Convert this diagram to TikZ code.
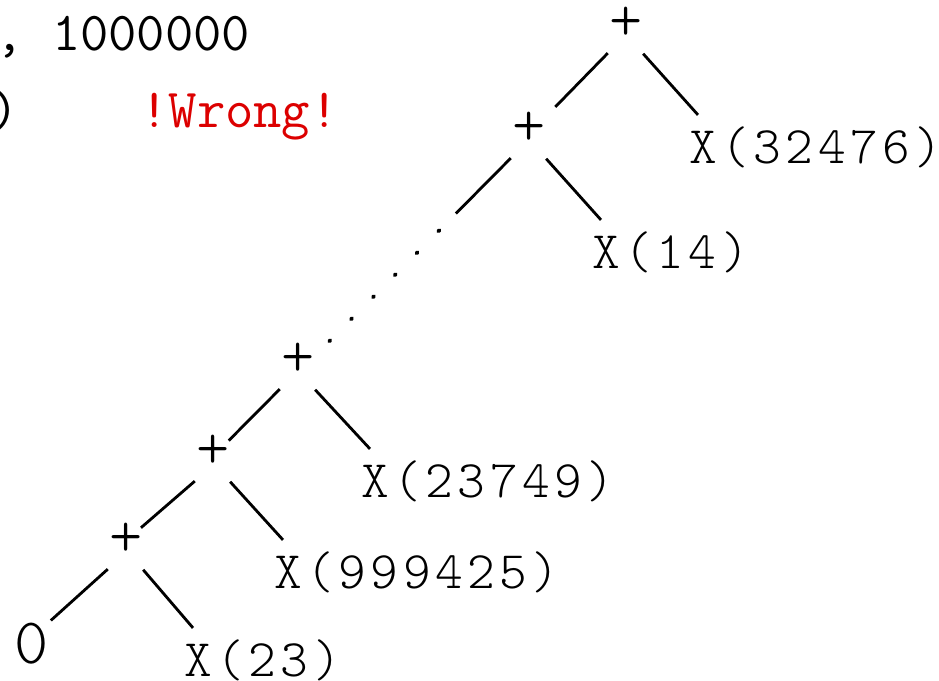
\documentclass[tikz,border=0pt]{standalone}
\usepackage{fontspec}
\newfontfamily\treefont{lmmonolt10-regular.otf}[LetterSpace=8.6]
\usepackage{tikz}
\usetikzlibrary{positioning}
\definecolor{wrongred}{RGB}{220,0,0}

\begin{document}
\begin{tikzpicture}[
        code/.style={font=\fontsize{31.3}{36}\selectfont\ttfamily, inner sep=0pt, anchor=base west},
        txt/.style={font=\fontsize{30}{36}\selectfont\treefont, inner sep=0pt},
        plus/.style={txt, font=\fontsize{36}{40}\selectfont\treefont, circle, minimum size=1.36cm},
        leaf/.style={txt, anchor=base west, inner ysep=0.22cm},
        branch/.style={line width=1.6pt},
        dotbranch/.style={line width=2.2pt, line cap=round, dash pattern=on 0.03cm off 0.59cm}
    ]
%
    \useasboundingbox (0,0) rectangle (18.78,-13.62);
    \clip (0,0) rectangle (18.78,-13.62);
%
    % Call line (cut at the left border)
    \node[code] (limit) at (-0.10,-1.00) {, 1000000};
    \node[code] (paren) at (-0.20,-2.54) {)};
    \node[code, text=wrongred] (wrong) at (2.80,-2.54) {!Wrong!};
%
    % Sum nodes
    \node[plus] (sum1) at (12.52,-0.48) {+};
    \node[plus] (sum2) at (10.58,-2.58) {+};
    \node[plus] (sum3) at (5.96,-7.20) {+};
    \node[plus] (sum4) at (4.26,-9.04) {+};
    \node[plus] (sum5) at (2.52,-10.80) {+};
%
    % Leaves
    \node[leaf] (x32476) at (13.78,-3.26) {X(32476)};
    \node[leaf] (x14) at (11.84,-5.36) {X(14)};
    \node[leaf] (x23749) at (7.22,-9.94) {X(23749)};
    \node[leaf] (x999425) at (5.48,-11.76) {X(999425)};
    \node[leaf] (x23) at (3.68,-13.52) {X(23)};
    \node[txt, font=\fontsize{37}{40}\selectfont\treefont, inner sep=1pt, anchor=base west] (zero) at (0.25,-13.26) {0};
%
    % Branches
    \draw[branch] (sum1.-122) -- (sum2.40);
    \draw[branch] (sum1.-60) -- ([xshift=0.18cm]x32476.north west);
    \draw[branch] (sum2.-60) -- ([xshift=0.18cm]x14.north west);
%
    % Long chain, partly dotted
    \path (sum2.-122) -- (sum3.30) coordinate[pos=0.3] (brk) coordinate[pos=0.39] (dotstart);
    \draw[branch] (sum2.-122) -- (brk);
    \draw[dotbranch] (dotstart) -- (sum3.30);
%
    \draw[branch, shorten >=-0.3cm] (sum3.-122) -- (sum4.40);
    \draw[branch] (sum3.-60) -- ([xshift=0.18cm]x23749.north west);
    \draw[branch, shorten >=-0.3cm] (sum4.-122) -- (sum5.40);
    \draw[branch] (sum4.-60) -- ([xshift=0.18cm]x999425.north west);
    \draw[branch] (sum5.-122) -- (zero.north east);
    \draw[branch] (sum5.-60) -- ([xshift=0.18cm]x23.north west);
%
\end{tikzpicture}
\end{document}
